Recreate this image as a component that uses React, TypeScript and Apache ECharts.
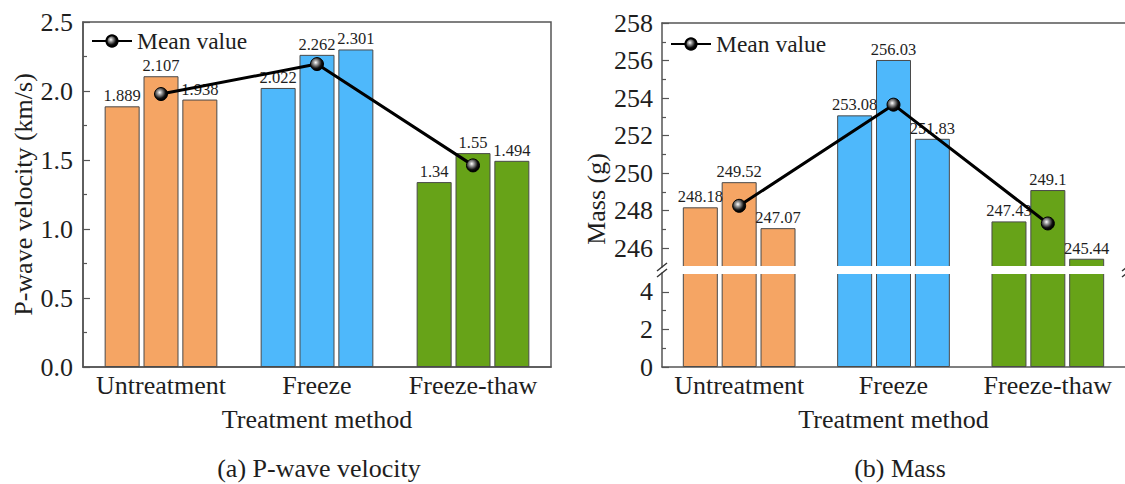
import React, { useEffect, useRef } from "react";
import * as echarts from "echarts";

const FONT = "'Liberation Serif', 'Times New Roman', serif";

// Treatment groups on the category axis
const categories = ["Untreatment", "Freeze", "Freeze-thaw"];
const groupColors = ["#F5A564", "#4EB8FB", "#67A318"];

// P-wave velocity (km/s), three specimens per treatment
const velocitySpecimen1 = [1.889, 2.022, 1.34];
const velocitySpecimen2 = [2.107, 2.262, 1.55];
const velocitySpecimen3 = [1.938, 2.301, 1.494];
const velocityMean = [1.978, 2.195, 1.461];

// Mass (g), three specimens per treatment
const massSpecimen1 = [248.18, 253.08, 247.43];
const massSpecimen2 = [249.52, 256.03, 249.1];
const massSpecimen3 = [247.07, 251.83, 245.44];
const massMean = [248.26, 253.65, 247.32];

// Broken mass axis: upper and lower segments
const massUpperLabels = [246, 248, 250, 252, 254, 256, 258];
const massUpperMinor = [247, 249, 251, 253, 255, 257];
const massLowerLabels = [0, 2, 4];
const massLowerMinor = [1, 3];

const AXIS_COLOR = "#555";
const TEXT_COLOR = "#1e1e1e";

const markerColor = {
  type: "radial",
  x: 0.4,
  y: 0.38,
  r: 0.6,
  colorStops: [
    { offset: 0, color: "#ffffff" },
    { offset: 0.3, color: "#9a9a9a" },
    { offset: 0.75, color: "#111" },
    { offset: 1, color: "#000" },
  ],
};

function bars(name: string, values: number[], xi: number, yi: number, withLabel: boolean) {
  return {
    type: "bar",
    name,
    xAxisIndex: xi,
    yAxisIndex: yi,
    data: values,
    barWidth: 35,
    barGap: "11%",
    clip: true,
    itemStyle: {
      color: (p: any) => groupColors[p.dataIndex],
      borderColor: "#4a4a4a",
      borderWidth: 1,
    },
    label: {
      show: withLabel,
      position: "top",
      distance: 2,
      fontSize: 16.5,
      fontFamily: FONT,
      color: TEXT_COLOR,
    },
    z: 2,
  };
}

function meanLine(values: number[], xi: number, yi: number) {
  return {
    type: "line",
    name: "Mean value",
    xAxisIndex: xi,
    yAxisIndex: yi,
    data: values,
    symbol: "circle",
    symbolSize: 13,
    lineStyle: { color: "#000", width: 3 },
    itemStyle: { color: markerColor, borderColor: "#000", borderWidth: 1 },
    z: 6,
  };
}

const tickLabel = { fontSize: 26, fontFamily: FONT, color: TEXT_COLOR };
const axisLine = { show: true, lineStyle: { color: AXIS_COLOR, width: 1.5 } };

function categoryAxis(gridIndex: number, withLabels: boolean, position: string) {
  return {
    type: "category",
    gridIndex,
    position,
    data: categories,
    axisLine,
    axisTick: { show: false },
    axisLabel: { show: withLabels, interval: 0, hideOverlap: false, margin: 5, ...tickLabel },
    name: withLabels ? "Treatment method" : "",
    nameLocation: "middle",
    nameGap: 39,
    nameTextStyle: { fontSize: 26, fontFamily: FONT, color: TEXT_COLOR },
    splitLine: { show: false },
  };
}

function customValueAxis(gridIndex: number, min: number, max: number, labels: number[], withLine: boolean, tickLen: number) {
  return {
    type: "value",
    gridIndex,
    position: "left",
    offset: 0,
    min,
    max,
    axisLine: withLine ? axisLine : { show: false },
    axisTick: {
      show: true,
      inside: true,
      length: tickLen,
      customValues: labels,
      lineStyle: { color: AXIS_COLOR, width: 1.2 },
    },
    axisLabel: {
      show: withLine,
      customValues: labels,
      margin: 9,
      ...tickLabel,
    },
    splitLine: { show: false },
  };
}

const legendText = { fontSize: 23.5, fontFamily: FONT, color: TEXT_COLOR };

export default function App() {
  const ref = useRef<HTMLDivElement>(null);

  useEffect(() => {
    document.body.style.margin = "0";
    if (!ref.current) return;
    const chart = echarts.init(ref.current, null, { renderer: "svg" });

    const slash = (x1: number, y1: number, x2: number, y2: number) => ({
      type: "line",
      z: 110,
      shape: { x1, y1, x2, y2 },
      style: { stroke: "#333", lineWidth: 1.5 },
    });

    chart.setOption({
      animation: false,
      backgroundColor: "#fff",
      grid: [
        {
          left: 83,
          top: 22,
          width: 468,
          height: 345,
          show: true,
          borderColor: AXIS_COLOR,
          borderWidth: 1.5,
          backgroundColor: "transparent",
        },
        { left: 662, top: 23, width: 468, height: 244 },
        { left: 662, top: 273, width: 468, height: 94 },
      ],
      legend: [
        {
          data: ["Mean value"],
          left: 86,
          top: 24,
          itemWidth: 40,
          itemHeight: 14,
          selectedMode: false,
          textStyle: legendText,
        },
        {
          data: ["Mean value"],
          left: 665,
          top: 27,
          itemWidth: 40,
          itemHeight: 14,
          selectedMode: false,
          textStyle: legendText,
        },
      ],
      xAxis: [
        categoryAxis(0, true, "bottom"),
        categoryAxis(1, false, "top"),
        categoryAxis(2, true, "bottom"),
      ],
      yAxis: [
        {
          type: "value",
          gridIndex: 0,
          position: "left",
          min: 0,
          max: 2.5,
          interval: 0.5,
          axisLine,
          axisTick: { show: true, inside: true, length: 7, lineStyle: { color: AXIS_COLOR, width: 1.2 } },
          minorTick: { show: true, splitNumber: 2, length: 4, lineStyle: { color: AXIS_COLOR, width: 1.2 } },
          axisLabel: { margin: 10, formatter: (v: number) => v.toFixed(1), ...tickLabel },
          splitLine: { show: false },
          name: "P-wave velocity (km/s)",
          nameLocation: "middle",
          nameGap: 46,
          nameTextStyle: { fontSize: 26, fontFamily: FONT, color: TEXT_COLOR },
        },
        customValueAxis(1, 245, 258, massUpperLabels, true, 7),
        customValueAxis(1, 245, 258, massUpperMinor, false, 4),
        customValueAxis(2, 0, 5, massLowerLabels, true, 7),
        customValueAxis(2, 0, 5, massLowerMinor, false, 4),
      ],
      series: [
        bars("Specimen 1", velocitySpecimen1, 0, 0, true),
        bars("Specimen 2", velocitySpecimen2, 0, 0, true),
        bars("Specimen 3", velocitySpecimen3, 0, 0, true),
        meanLine(velocityMean, 0, 0),
        bars("Specimen 1", massSpecimen1, 1, 1, true),
        bars("Specimen 2", massSpecimen2, 1, 1, true),
        bars("Specimen 3", massSpecimen3, 1, 1, true),
        meanLine(massMean, 1, 1),
        bars("Specimen 1", massSpecimen1, 2, 3, false),
        bars("Specimen 2", massSpecimen2, 2, 3, false),
        bars("Specimen 3", massSpecimen3, 2, 3, false),
      ],
      graphic: [
        // white band of the axis break across the mass bars
        {
          type: "rect",
          z: 100,
          shape: { x: 663, y: 266, width: 470, height: 8 },
          style: { fill: "#fff" },
        },
        slash(657, 271, 667, 263),
        slash(657, 277, 667, 269),
        slash(1122, 271, 1132, 263),
        slash(1122, 277, 1132, 269),
        {
          type: "text",
          x: 596,
          y: 199,
          rotation: Math.PI / 2,
          style: {
            text: "Mass (g)",
            fontSize: 26,
            fontFamily: FONT,
            fill: TEXT_COLOR,
            textAlign: "center",
            textVerticalAlign: "middle",
          },
        },
        {
          type: "text",
          x: 319,
          y: 468,
          style: {
            text: "(a) P-wave velocity",
            fontSize: 26,
            fontFamily: FONT,
            fill: TEXT_COLOR,
            textAlign: "center",
            textVerticalAlign: "middle",
          },
        },
        {
          type: "text",
          x: 900,
          y: 468,
          style: {
            text: "(b) Mass",
            fontSize: 26,
            fontFamily: FONT,
            fill: TEXT_COLOR,
            textAlign: "center",
            textVerticalAlign: "middle",
          },
        },
      ],
    });

    return () => chart.dispose();
  }, []);

  return <div ref={ref} style={{ width: 1125, height: 484 }} />;
}
